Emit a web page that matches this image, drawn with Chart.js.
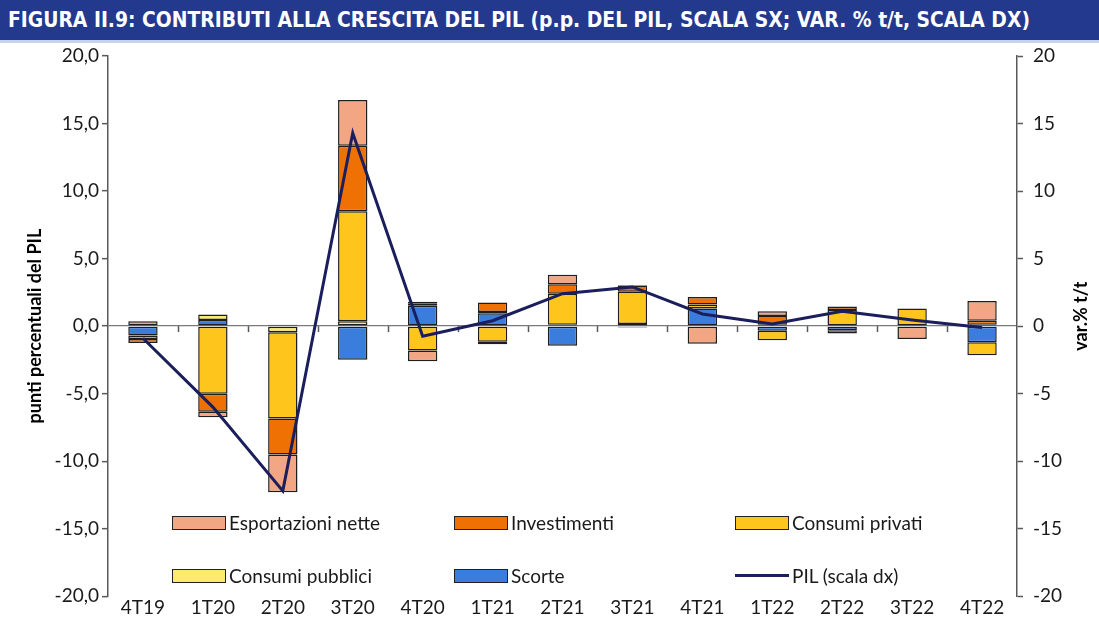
<!DOCTYPE html>
<html>
<head>
<meta charset="utf-8">
<script src="https://cdn.jsdelivr.net/npm/chart.js@4.4.1/dist/chart.umd.min.js"></script>
<style>
html,body{margin:0;padding:0;background:#fff;}
#wrap{position:relative;width:1099px;height:636px;overflow:hidden;background:#fff;}
#titlebar{position:absolute;left:0;top:0;width:1099px;height:43px;background:#22398E;border-bottom:3px solid #c7d3ee;box-sizing:border-box;z-index:2;}
#titletext{position:absolute;left:8px;top:8px;font-family:"Liberation Sans Narrow","DejaVu Sans Condensed",sans-serif;font-weight:bold;font-size:21px;line-height:24px;color:#fff;white-space:nowrap;transform-origin:0 0;}
#chartbox{position:absolute;left:0;top:0;width:1099px;height:636px;}
#legend{position:absolute;left:172px;top:509px;display:grid;grid-template-columns:282px 281px 220px;grid-auto-rows:53px;z-index:3;}
.li{display:flex;align-items:center;height:27px;font-family:Lato,"Open Sans",sans-serif;font-size:19px;color:#1a1a1a;white-space:nowrap;}
.sw{width:54px;height:14px;border:1.5px solid #222;box-sizing:border-box;margin-right:3px;}
.ln{width:54px;height:3px;margin-right:3px;}
</style>
</head>
<body>
<div id="wrap">
  <div id="titlebar"><span id="titletext">FIGURA II.9: CONTRIBUTI ALLA CRESCITA DEL PIL (p.p. DEL PIL, SCALA SX; VAR. % t/t, SCALA DX)</span></div>
  <div id="chartbox"><canvas id="c" width="1099" height="636"></canvas></div>
  <div id="legend"></div>
</div>
<script>
// ---- data ----
const categories = ['4T19','1T20','2T20','3T20','4T20','1T21','2T21','3T21','4T21','1T22','2T22','3T22','4T22'];
const scorte            = [-0.70, 0.45, 0.10, -2.50, 1.50, 0.95, -1.45, -0.10, 1.30, -0.35, -0.30, 0.00, -1.20];
const consumiPubblici   = [ 0.00, 0.40, -0.45, 0.35, 0.15, 0.10, 0.10, 0.15, 0.00, 0.10, -0.25, 0.00, 0.10];
const consumiPrivati    = [-0.25, -5.00, -6.40, 8.15, -1.80, -1.15, 2.30, 2.40, 0.30, -0.70, 1.20, 1.30, -0.95];
const investimenti      = [-0.30, -1.35, -2.65, 4.85, 0.15, 0.70, 0.70, 0.45, 0.55, 0.65, 0.25, 0.00, 0.30];
const esportazioniNette = [ 0.35, -0.40, -2.80, 3.40, -0.80, -0.20, 0.70, 0.05, -1.30, 0.35, 0.00, -0.95, 1.45];
const pil               = [-0.90, -6.00, -12.20, 14.30, -0.75, 0.40, 2.40, 2.90, 0.90, 0.15, 1.10, 0.45, -0.10];
const leftTickValues  = [-20,-15,-10,-5,0,5,10,15,20];
const rightTickValues = [-20,-15,-10,-5,0,5,10,15,20];
const leftTitle  = 'punti percentuali del PIL';
const rightTitle = 'var.% t/t';
const legendOrder = ['Esportazioni nette','Investimenti','Consumi privati','Consumi pubblici','Scorte','PIL (scala dx)'];

// ---- title fit ----
(function(){
  const t = document.getElementById('titletext');
  const w = t.getBoundingClientRect().width;
  const target = 1022;
  t.style.transform = 'scaleX(' + (target / w) + ')';
})();

const FONT = 'Lato, "Open Sans", sans-serif';
const AX = '#595959';
const barCommon = {type:'bar', borderColor:'#1e1e1e', borderWidth:1.5, borderSkipped:false, order:1, yAxisID:'y', stack:'s',
                   barPercentage:0.42, categoryPercentage:1.0};

const datasets = [
  Object.assign({label:'Scorte', data:scorte, backgroundColor:'#3B7DDD'}, barCommon),
  Object.assign({label:'Consumi pubblici', data:consumiPubblici, backgroundColor:'#FCEA6C'}, barCommon),
  Object.assign({label:'Consumi privati', data:consumiPrivati, backgroundColor:'#FEC51C'}, barCommon),
  Object.assign({label:'Investimenti', data:investimenti, backgroundColor:'#EF7104'}, barCommon),
  Object.assign({label:'Esportazioni nette', data:esportazioniNette, backgroundColor:'#F2A684'}, barCommon),
  {type:'line', label:'PIL (scala dx)', data:pil, borderColor:'#1B1E5C', backgroundColor:'#1B1E5C', borderWidth:3, pointRadius:0, tension:0, order:0, yAxisID:'y1', fill:false}
];

const extras = {
  id:'extras',
  beforeDatasetsDraw(chart){
    const {ctx, chartArea, scales} = chart;
    const y0 = scales.y.getPixelForValue(0);
    const n = categories.length;
    const w = (chartArea.right - chartArea.left) / n;
    ctx.save();
    ctx.strokeStyle = AX; ctx.lineWidth = 1.5;
    for (let i = 1; i < n; i++) {
      const x = Math.round(chartArea.left + i * w) + 0.5;
      ctx.beginPath(); ctx.moveTo(x, y0); ctx.lineTo(x, y0 + 6); ctx.stroke();
    }
    ctx.restore();
  },
  afterDraw(chart){
    const {ctx, scales} = chart;
    const ys = scales.y1;
    ctx.save();
    ctx.font = 'bold 18px ' + FONT;
    ctx.fillStyle = '#000';
    ctx.textAlign = 'center';
    ctx.textBaseline = 'middle';
    ctx.translate(1081, (ys.top + ys.bottom) / 2 - 10);
    ctx.rotate(-Math.PI / 2);
    ctx.fillText(rightTitle, 0, 0);
    ctx.restore();
  }
};

const chart = new Chart(document.getElementById('c'), {
  data:{labels:categories, datasets:datasets},
  options:{
    responsive:false, animation:false,
    layout:{padding:{top:56, bottom:17, left:0, right:0}},
    plugins:{legend:{display:false}, tooltip:{enabled:false}, title:{display:false}},
    scales:{
      x:{stacked:true, offset:true, grid:{display:false, drawTicks:false}, border:{display:false},
         ticks:{font:{family:FONT, size:19}, color:'#1a1a1a', padding:0, maxRotation:0, autoSkip:false}},
      y:{stacked:true, position:'left', min:-20, max:20,
         afterBuildTicks:s=>{s.ticks = leftTickValues.map(v=>({value:v}));},
         ticks:{font:{family:FONT, size:19}, color:'#1a1a1a', padding:3,
                callback:v=>Number(v).toFixed(1).replace('.',',')},
         grid:{drawOnChartArea:true, color:c=>(c.tick && c.tick.value===0)?'#7a7a7a':'rgba(0,0,0,0)', lineWidth:1.3,
               drawTicks:true, tickLength:6, tickColor:AX, tickWidth:1.5},
         border:{display:true, color:AX, width:1.5},
         title:{display:true, text:leftTitle, font:{family:FONT, size:18, weight:'bold'}, color:'#000', padding:{top:24, bottom:0}},
         afterFit:s=>{s.width = 108;}},
      y1:{position:'right', min:-20, max:20,
         afterBuildTicks:s=>{s.ticks = rightTickValues.map(v=>({value:v}));},
         ticks:{font:{family:FONT, size:19}, color:'#1a1a1a', padding:10, callback:v=>String(v)},
         grid:{drawOnChartArea:false, drawTicks:true, tickLength:6, tickColor:AX, tickWidth:1.5},
         border:{display:true, color:AX, width:1.5},
         afterFit:s=>{s.width = 82;}}
    }
  },
  plugins:[extras]
});

// ---- HTML legend built from the chart datasets ----
(function(){
  const lg = document.getElementById('legend');
  legendOrder.forEach(name=>{
    const ds = chart.data.datasets.find(d=>d.label===name);
    const item = document.createElement('div');
    item.className = 'li';
    const mk = document.createElement('div');
    if (ds.type === 'line') { mk.className = 'ln'; mk.style.background = ds.borderColor; }
    else { mk.className = 'sw'; mk.style.background = ds.backgroundColor; }
    item.appendChild(mk);
    const tx = document.createElement('span');
    tx.textContent = ds.label;
    item.appendChild(tx);
    lg.appendChild(item);
  });
})();
</script>
</body>
</html>
